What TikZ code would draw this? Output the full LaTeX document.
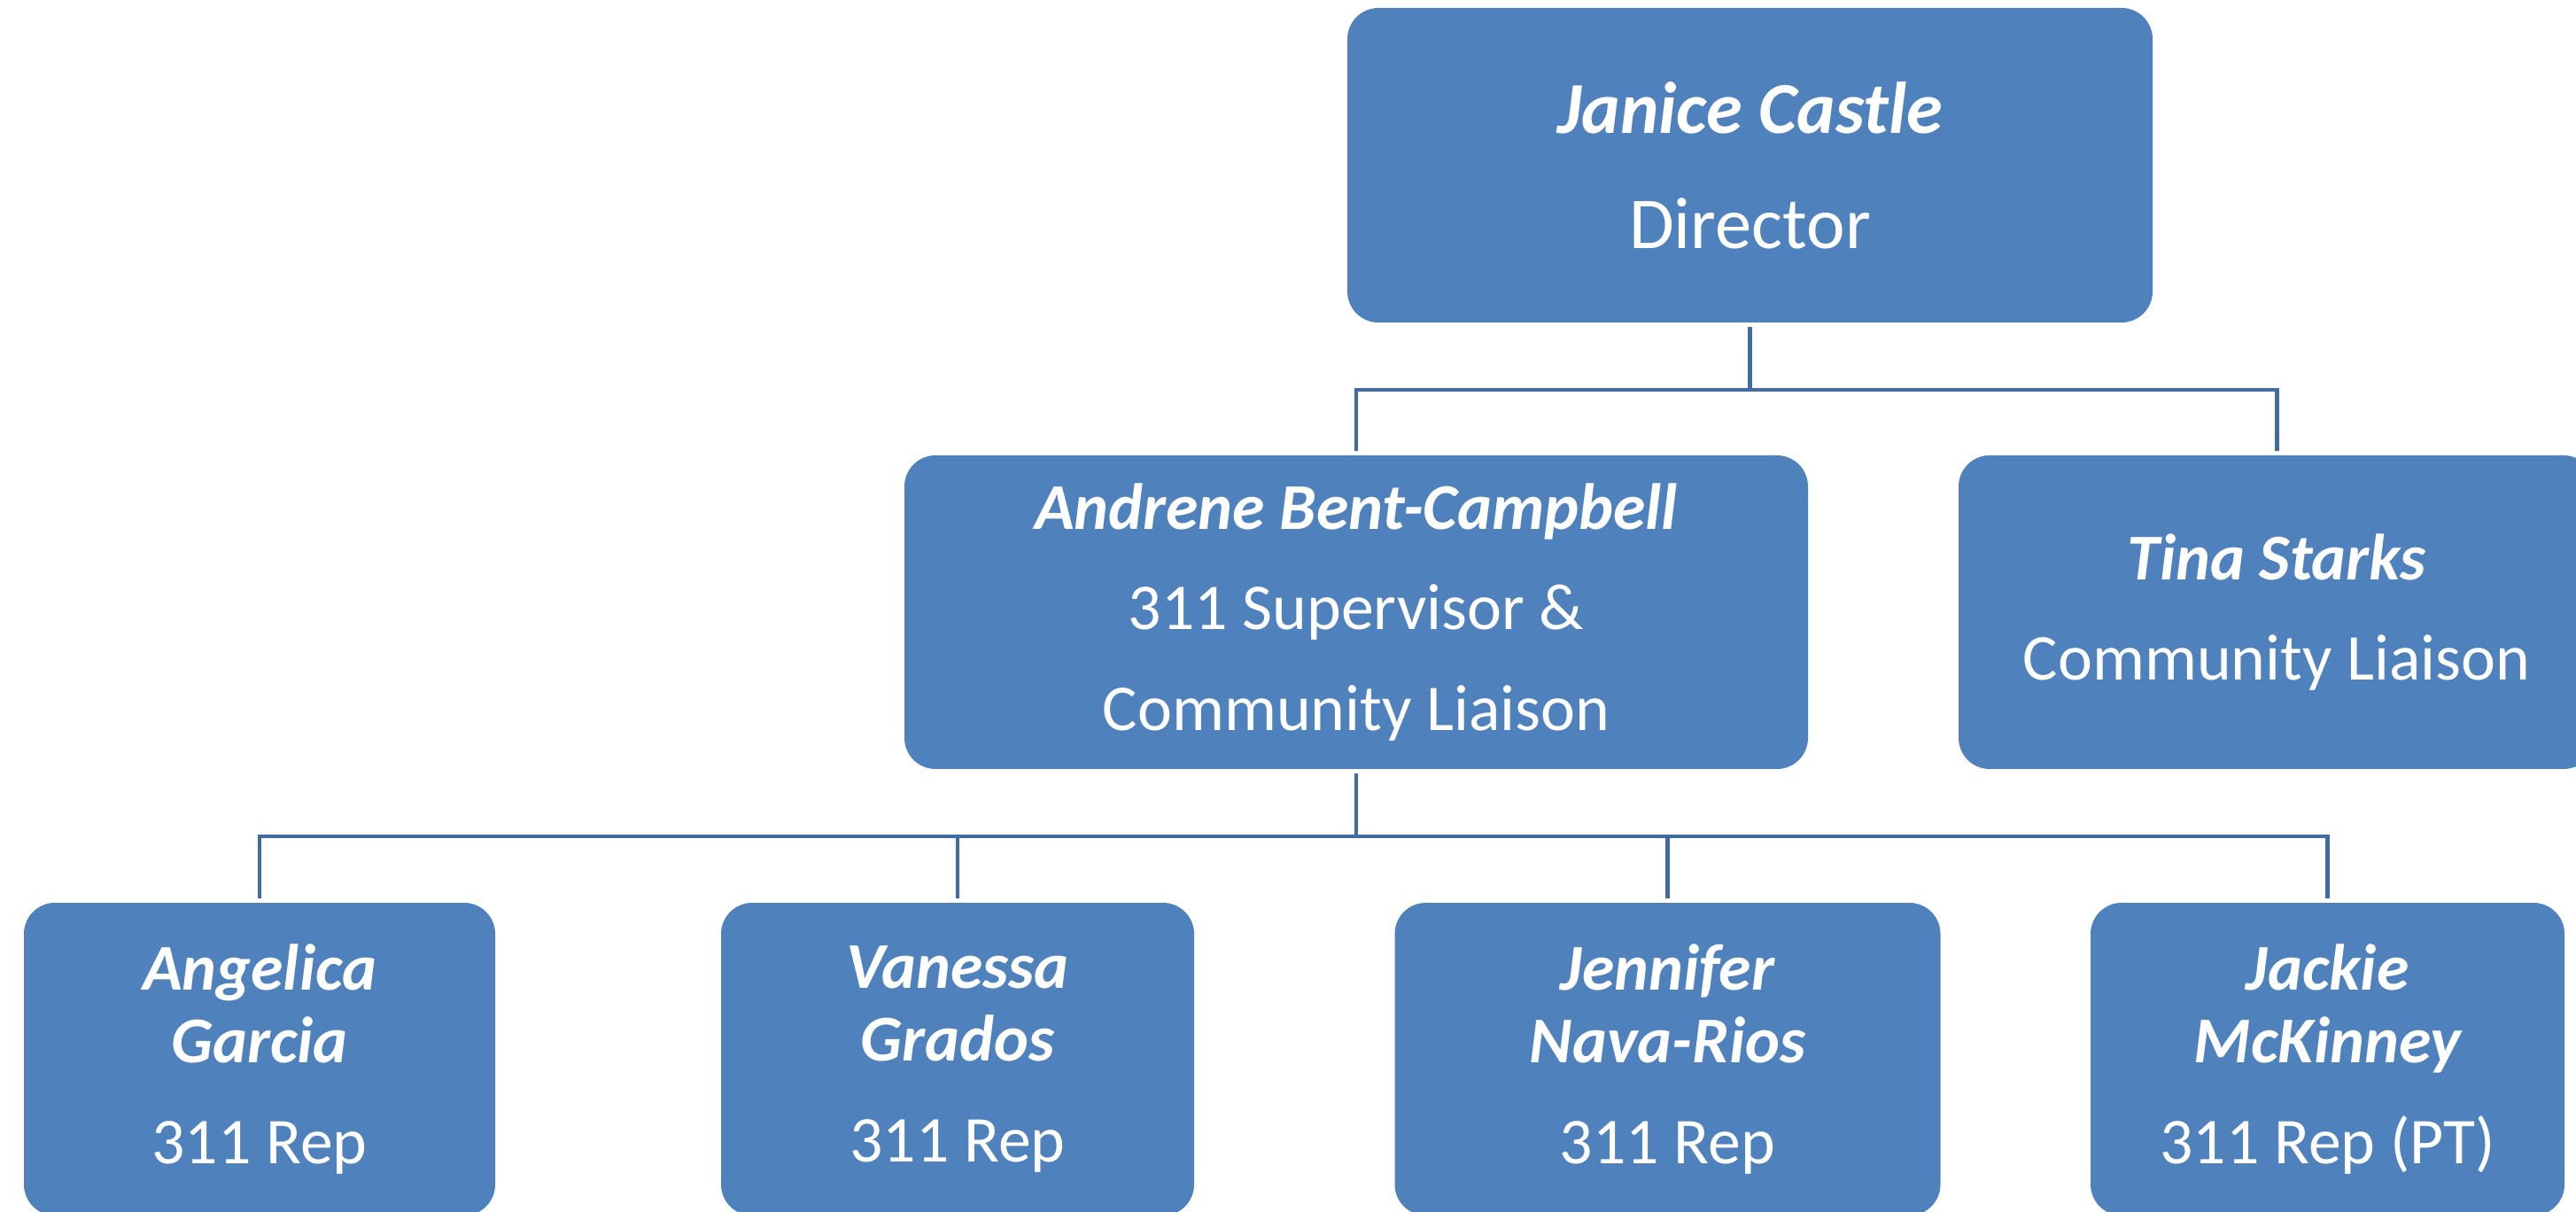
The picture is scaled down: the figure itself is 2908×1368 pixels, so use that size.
\documentclass[tikz,border=0pt]{standalone}
\usepackage{fontspec}
\setmainfont{Carlito}
\usepackage{tikz}
\usetikzlibrary{positioning, calc}
\definecolor{boxblue}{HTML}{4F81BD}
\definecolor{linkblue}{HTML}{416CA1}
\tikzstyle{box}=[rectangle, rounded corners=3.5mm, fill=boxblue, text=white, align=center,
  inner sep=0pt, outer sep=0.5mm, font=\fontsize{21}{23.3}\selectfont]
\tikzstyle{link}=[draw=linkblue, line width=1.4pt]
\newcommand{\who}[1]{{\bfseries\itshape #1}}

\begin{document}
\begin{tikzpicture}[x=0.1mm, y=-0.1mm]
      \useasboundingbox (0,0) rectangle (2908,1368);

      \node[box, minimum width=90.9mm, minimum height=35.5mm, font=\fontsize{23.5}{26}\selectfont] (director) at (1975.5,186.5)
        {\who{Janice Castle}\\[10.9pt] Director};
      \node[box, minimum width=102mm, minimum height=35.4mm] (supervisor) at (1531,691)
        {\who{Andrene Bent-Campbell}\\[9.1pt] 311 Supervisor \&\\[9.1pt] Community Liaison};
      \node[box, minimum width=71.8mm, minimum height=35.4mm] (liaison) at (2570,691)
        {\who{Tina Starks}\\[9.1pt] Community Liaison};

      \node[box, minimum width=53.2mm, minimum height=35.3mm] (repA) at (293,1195.5)
        {\who{Angelica}\\ \who{Garcia}\\[9.1pt] 311 Rep};
      \node[box, minimum width=53.4mm, minimum height=35.3mm] (repB) at (1081,1195.5)
        {\who{Vanessa}\\ \who{Grados}\\[9.1pt] 311 Rep};
      \node[box, minimum width=61.6mm, minimum height=35.3mm] (repC) at (1882.5,1195.5)
        {\who{Jennifer}\\ \who{Nava-Rios}\\[9.1pt] 311 Rep};
      \node[box, minimum width=53.5mm, minimum height=35.3mm] (repD) at (2627.5,1195.5)
        {\who{Jackie}\\ \who{McKinney}\\[9.1pt] 311 Rep (PT)};

      \coordinate (topBus) at (0,440);
      \coordinate (lowBus) at (0,944);

      \draw[link] (director.south) -- (director.south |- topBus);
      \foreach \m in {supervisor, liaison}{
        \draw[link] (director.south |- topBus) -| (\m.north);
      }

      \draw[link] (supervisor.south) -- (supervisor.south |- lowBus);
      \foreach \m in {repA, repB, repC, repD}{
        \draw[link] (supervisor.south |- lowBus) -| (\m.north);
      }
    \end{tikzpicture}
\end{document}
